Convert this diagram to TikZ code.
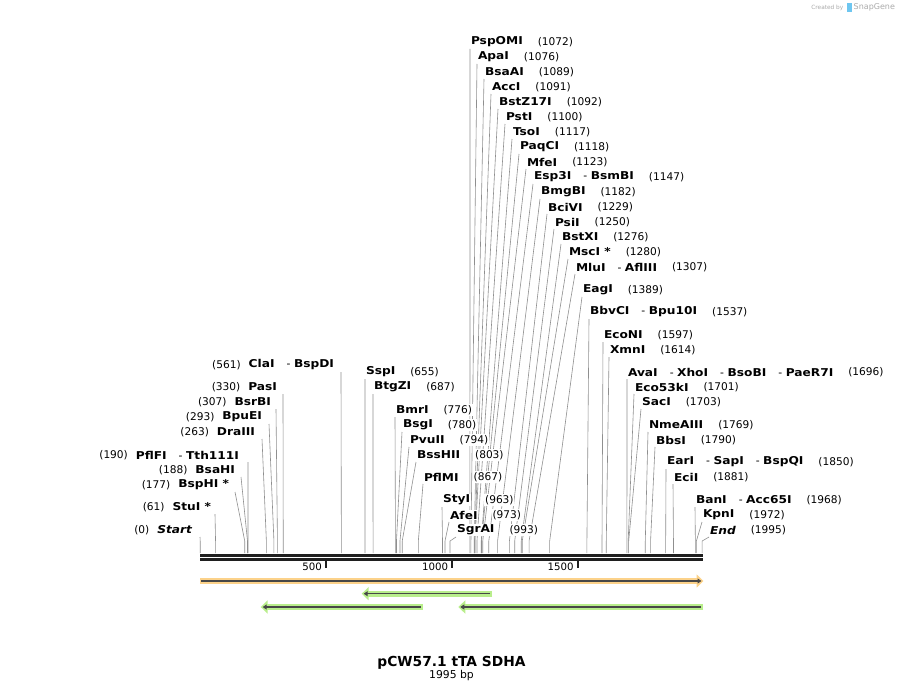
\documentclass[tikz,border=0pt]{standalone}
\usepackage{fontspec}
\setmainfont{DejaVu Sans}[BoldFont={DejaVu Sans Bold},ItalicFont={DejaVu Sans Oblique},BoldItalicFont={DejaVu Sans Bold Oblique}]
\newfontface\nmb{DejaVu Sans Bold}[FakeStretch=1.13]
\newfontface\nmbi{DejaVu Sans Bold Oblique}[FakeStretch=1.13]
\usetikzlibrary{arrows.meta}
\definecolor{siteline}{HTML}{8F8F8F}
\definecolor{orglow}{HTML}{FCD28A}
\definecolor{grglow}{HTML}{B9EE8C}
\definecolor{featline}{HTML}{474747}
\definecolor{logogray}{HTML}{ABABAB}
\definecolor{logoblue}{HTML}{6EC6F0}
\newcommand\enz[1]{{\nmb #1}}
\newcommand\hy{\hspace{12pt}-\hspace{3.5pt}}
\def\rightlist{470/42/1072/{\enz{PspOMI}},
477/57/1076/{\enz{ApaI}},
484/72/1089/{\enz{BsaAI}},
491/87/1091/{\enz{AccI}},
498/102/1092/{\enz{BstZ17I}},
505/117/1100/{\enz{PstI}},
512/132/1117/{\enz{TsoI}},
519/147/1118/{\enz{PaqCI}},
526/162/1123/{\enz{MfeI}},
533/177/1147/{\enz{Esp3I}\hy\enz{BsmBI}},
540/192/1182/{\enz{BmgBI}},
547/207/1229/{\enz{BciVI}},
554/222/1250/{\enz{PsiI}},
561/237/1276/{\enz{BstXI}},
568/252/1280/{\enz{MscI *}},
575/267/1307/{\enz{MluI}\hy\enz{AflIII}},
582/290/1389/{\enz{EagI}},
589/312/1537/{\enz{BbvCI}\hy\enz{Bpu10I}},
603/335/1597/{\enz{EcoNI}},
609/350/1614/{\enz{XmnI}},
627/372/1696/{\enz{AvaI}\hy\enz{XhoI}\hy\enz{BsoBI}\hy\enz{PaeR7I}},
634/387/1701/{\enz{Eco53kI}},
641/402/1703/{\enz{SacI}},
648/425/1769/{\enz{NmeAIII}},
655/440/1790/{\enz{BbsI}},
666/462/1850/{\enz{EarI}\hy\enz{SapI}\hy\enz{BspQI}},
673/477/1881/{\enz{EciI}},
695/500/1968/{\enz{BanI}\hy\enz{Acc65I}},
702/515/1972/{\enz{KpnI}},
709/530/1995/{{\nmbi End}},
365/372/655/{\enz{SspI}},
373/387/687/{\enz{BtgZI}},
395/410/776/{\enz{BmrI}},
402/425/780/{\enz{BsgI}},
409/440/794/{\enz{PvuII}},
416/455/803/{\enz{BssHII}},
423/477/867/{\enz{PflMI}},
442/500/963/{\enz{StyI}},
449/515/973/{\enz{AfeI}},
456/530/993/{\enz{SgrAI}}}
\def\leftlist{335/365/561/341/{\enz{ClaI}\hy\enz{BspDI}},
278/387/330/283/{\enz{PasI}},
272/402/307/276/{\enz{BsrBI}},
263/417/293/269/{\enz{BpuEI}},
256/432/263/262/{\enz{DraIII}},
240/455/190/248/{\enz{PflFI}\hy\enz{Tth111I}},
236/470/188/241/{\enz{BsaHI}},
230/485/177/235/{\enz{BspHI *}},
212/507/61/215/{\enz{StuI *}},
193/530/0/200/{{\nmbi Start}}}
\begin{document}
\begin{tikzpicture}[x=1pt,y=-1pt,
  sitel/.style={draw=siteline,line width=0.6pt},
  nametxt/.style={font=\fontsize{10.8}{12}\selectfont,inner sep=0.8pt,fill=white},
  numtxt/.style={font=\fontsize{10.6}{12}\selectfont,inner sep=0.8pt,fill=white},
  axisl/.style={draw=black!88,line width=2.7pt},
  tickl/.style={draw=black!88,line width=1.8pt},
  ticktxt/.style={font=\fontsize{10.2}{12}\selectfont,inner sep=0pt,anchor=east},
  glowor/.style={draw=orglow,line width=6pt,-{Triangle[length=7pt,width=13pt]}},
  glowgr/.style={draw=grglow,line width=6pt,-{Triangle[length=7pt,width=13pt]}},
  featl/.style={draw=featline,line width=1.5pt,-{Triangle[length=4pt,width=5pt]}}]
\useasboundingbox (0,0) rectangle (904,693);
\fill[white] (0,0) rectangle (904,693);
% site lines, right-hand labels
\foreach \lx/\ly/\bp/\nm [count=\i] in \rightlist {
  \pgfmathsetmacro\sx{200.2+\bp*0.2516}
  \coordinate (rt\i) at (\lx,\ly+7);
  \coordinate (rb\i) at (\sx,541);
  \coordinate (ra\i) at (\sx,553);
  \draw[sitel] (rt\i) -- (rb\i) -- (ra\i);
}
% site lines, left-hand labels
\foreach \rx/\ly/\bp/\lsx/\nm [count=\i] in \leftlist {
  \pgfmathsetmacro\sx{200.2+\bp*0.2516}
  \coordinate (lt\i) at (\lsx,\ly+7);
  \coordinate (lb\i) at (\sx,541);
  \coordinate (la\i) at (\sx,553);
  \draw[sitel] (lt\i) -- (lb\i) -- (la\i);
}
% labels
\foreach \lx/\ly/\bp/\nm [count=\i] in \rightlist {
  \node[nametxt,anchor=west] (rn\i) at (\lx,\ly) {\nm};
  \node[numtxt,anchor=west] (rp\i) at ([xshift=13pt]rn\i.east) {(\bp)};
}
\foreach \rx/\ly/\bp/\lsx/\nm [count=\i] in \leftlist {
  \node[nametxt,anchor=east] (ln\i) at (\rx,\ly) {\nm};
  \node[numtxt,anchor=east] (lp\i) at ([xshift=-6pt]ln\i.west) {(\bp)};
}
% axis
\coordinate (a0) at (200,555.3); \coordinate (a1) at (703,555.3);
\coordinate (b0) at (200,559.3); \coordinate (b1) at (703,559.3);
\draw[axisl] (a0) -- (a1);
\draw[axisl] (b0) -- (b1);
\foreach \t/\tx in {500/326,1000/452.3,1500/577.7} {
  \coordinate (tk\t) at (\tx,560.5);
  \coordinate (tkb\t) at (\tx,567.5);
  \draw[tickl] (tk\t) -- (tkb\t);
  \node[ticktxt] (tt\t) at (\tx-4,567) {\t};
}
% features
\coordinate (o0) at (200,581); \coordinate (o1) at (703.5,581);
\coordinate (oi0) at (201,581); \coordinate (oi1) at (701.5,581);
\draw[glowor] (o0) -- (o1);
\draw[featl] (oi0) -- (oi1);
\foreach \y/\tip/\tail [count=\k] in {593.7/361.7/492, 607/260.7/422.7, 607/458.3/703} {
  \coordinate (g0\k) at (\tail,\y); \coordinate (g1\k) at (\tip,\y);
  \coordinate (gi0\k) at (\tail-1.8,\y); \coordinate (gi1\k) at (\tip+2,\y);
  \draw[glowgr] (g0\k) -- (g1\k);
  \draw[featl] (gi0\k) -- (gi1\k);
}
% title
\node[font=\fontsize{13.8}{15}\selectfont\bfseries,inner sep=0pt] (title) at (451.5,662.7) {pCW57.1 tTA SDHA};
\node[font=\fontsize{10.8}{12}\selectfont,inner sep=0pt] (len) at (451.5,676) {1995 bp};
% logo
\node[font=\fontsize{5.8}{7}\selectfont,text=logogray,inner sep=0pt,anchor=east] (cb) at (843.5,7.5) {Created by};
\fill[logoblue] (847,3) rectangle (851.5,12);
\node[font=\fontsize{8}{9}\selectfont,text=logogray,inner sep=0pt,anchor=west] (sg) at (853.5,7.5) {SnapGene};
\end{tikzpicture}
\end{document}
